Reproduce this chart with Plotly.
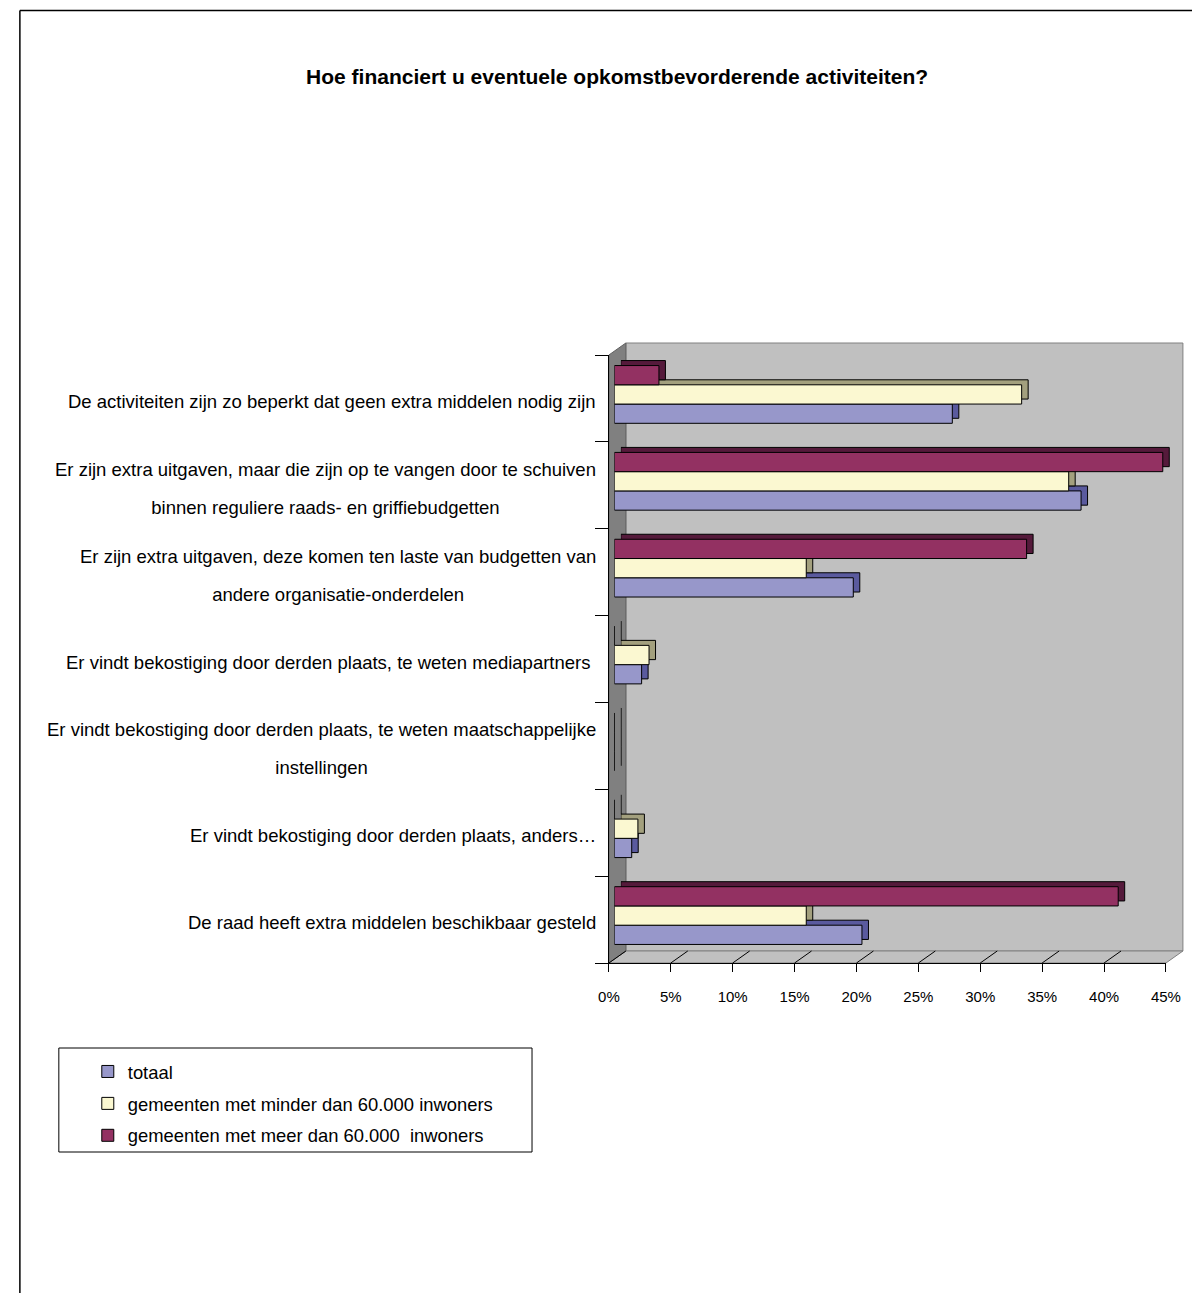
import plotly.graph_objects as go

# ---------------- data ----------------
categories = [
    "De activiteiten zijn zo beperkt dat geen extra middelen nodig zijn",
    "Er zijn extra uitgaven, maar die zijn op te vangen door te schuiven|binnen reguliere raads- en griffiebudgetten",
    "Er zijn extra uitgaven, deze komen ten laste van budgetten van|andere organisatie-onderdelen",
    "Er vindt bekostiging door derden plaats, te weten mediapartners\u00a0",
    "Er vindt bekostiging door derden plaats, te weten maatschappelijke|instellingen",
    "Er vindt bekostiging door derden plaats, anders\u2026",
    "De raad heeft extra middelen beschikbaar gesteld",
]
series_names = [
    "totaal",
    "gemeenten met minder dan 60.000 inwoners",
    "gemeenten met meer dan 60.000\u00a0\u00a0inwoners",
]
totaal = [27.3, 37.7, 19.3, 2.2, 0.0, 1.4, 20.0]
minder = [32.9, 36.7, 15.5, 2.8, 0.0, 1.9, 15.5]
meer = [3.6, 44.3, 33.3, 0.0, 0.0, 0.0, 40.7]
x_ticks = [0, 5, 10, 15, 20, 25, 30, 35, 40, 45]
title_text = "Hoe financiert u eventuele opkomstbevorderende activiteiten?"

front_colors = ["#9797CA", "#FBF8D1", "#933162"]
depth_colors = ["#5A5A9E", "#A3A07E", "#551A3B"]

W, H = 1200, 1285
# observed mapping of figure pixels onto the photographed page
SX, OX = 0.98, 17.1
OY = 8
FONT = "Liberation Sans, Arial, sans-serif"


def X(px):
    return ((px - OX) / SX) / W


def Y(py):
    return 1 - (py - OY) / H


values = [totaal, minder, meer]
cat_order = categories[::-1]

fig = go.Figure()

# depth (back faces) of the bars -> subplot x2/y2, shifted right/up
for name, vals, col in zip(series_names, values, depth_colors):
    fig.add_trace(go.Bar(
        x=vals, y=categories, orientation="h", name=name,
        marker=dict(color=col, line=dict(color="black", width=1)),
        xaxis="x2", yaxis="y2", showlegend=False, hoverinfo="skip",
    ))

# front faces of the bars -> subplot x3/y3
for i, (name, vals, col) in enumerate(zip(series_names, values, front_colors)):
    fig.add_trace(go.Bar(
        x=vals, y=categories, orientation="h", name=name,
        marker=dict(color=col, line=dict(color="black", width=1)),
        xaxis="x3", yaxis="y3", legendgroup="g%d" % i,
    ))

bar_x0, bar_x1 = 613.5, 1171.5
bar_y0, bar_y1 = 351, 959
dx, dy = 6.5, 5

fig.update_layout(
    width=W, height=H,
    margin=dict(l=0, r=0, t=0, b=0),
    paper_bgcolor="white",
    plot_bgcolor="rgba(0,0,0,0)",
    font=dict(family=FONT, size=15, color="black"),
    barmode="group", bargap=0.335, bargroupgap=0,
    title=dict(text="<b>%s</b>" % title_text, x=X(614), xanchor="center",
               y=Y(77), yanchor="middle",
               font=dict(family=FONT, size=21, color="black")),
    # back wall (grid lines)
    xaxis=dict(domain=[X(625), X(1183)], range=[0, 45], tickvals=x_ticks,
               showgrid=True, gridcolor="#3a3a3a", gridwidth=1,
               showticklabels=False, zeroline=False, showline=False,
               ticks="", anchor="y", fixedrange=True),
    yaxis=dict(domain=[Y(951), Y(343)], range=[0, 1], showgrid=False,
               showticklabels=False, zeroline=False, showline=False,
               ticks="", anchor="x", fixedrange=True),
    # bar depth faces
    xaxis2=dict(domain=[X(bar_x0 + dx), X(bar_x1 + dx)], range=[0, 45],
                showgrid=False, showticklabels=False, zeroline=False,
                showline=False, ticks="", anchor="y2", fixedrange=True),
    yaxis2=dict(domain=[Y(bar_y1 - dy), Y(bar_y0 - dy)], type="category",
                categoryorder="array", categoryarray=cat_order,
                showgrid=False, showticklabels=False, zeroline=False,
                showline=False, ticks="", anchor="x2", fixedrange=True),
    # bar front faces
    xaxis3=dict(domain=[X(bar_x0), X(bar_x1)], range=[0, 45],
                showgrid=False, showticklabels=False, zeroline=False,
                showline=False, ticks="", anchor="y3", fixedrange=True),
    yaxis3=dict(domain=[Y(bar_y1), Y(bar_y0)], type="category",
                categoryorder="array", categoryarray=cat_order,
                showgrid=False, showticklabels=False, zeroline=False,
                showline=False, ticks="", anchor="x3", fixedrange=True),
    # front axes (ticks and labels)
    xaxis4=dict(domain=[X(608), X(1166)], range=[0, 45], tickvals=x_ticks,
                ticktext=["%d%%" % v for v in x_ticks],
                ticks="outside", ticklen=8, tickcolor="black", tickwidth=1,
                showline=True, linecolor="black", linewidth=1,
                showgrid=False, zeroline=False, anchor="y4",
                tickfont=dict(family=FONT, size=15, color="black"),
                ticklabelstandoff=12, fixedrange=True),
    yaxis4=dict(domain=[Y(963), Y(355)], range=[0, len(categories)],
                tickvals=list(range(len(categories) + 1)),
                ticks="outside", ticklen=13, tickcolor="black", tickwidth=1,
                showline=True, linecolor="black", linewidth=1,
                showgrid=False, zeroline=False, showticklabels=False,
                anchor="x4", fixedrange=True),
    legend=dict(x=X(86), xanchor="left", y=Y(1053), yanchor="top",
                bgcolor="rgba(0,0,0,0)", borderwidth=0,
                font=dict(family=FONT, size=18.4, color="black"),
                tracegroupgap=5, traceorder="grouped"),
)

shapes = []
# outer frame: top and left edges (right/bottom lie outside the picture)
shapes.append(dict(type="line", xref="paper", yref="paper",
                   x0=0.9 / W, x1=1, y0=Y(10.5), y1=Y(10.5),
                   line=dict(color="black", width=1.5), layer="below"))
shapes.append(dict(type="line", xref="paper", yref="paper",
                   x0=0.9 / W, x1=0.9 / W, y0=0, y1=Y(10.5),
                   line=dict(color="black", width=1.5), layer="below"))
# back wall
shapes.append(dict(type="rect", xref="paper", yref="paper",
                   x0=X(625), x1=X(1183), y0=Y(951), y1=Y(343),
                   fillcolor="#C0C0C0", line=dict(color="#808080", width=1),
                   layer="below"))


def path(points):
    return "M " + " L ".join("%f,%f" % (X(a), Y(b)) for a, b in points) + " Z"


# floor
shapes.append(dict(type="path", xref="paper", yref="paper",
                   path=path([(608, 963), (625, 951), (1183, 951), (1166, 963)]),
                   fillcolor="#C0C0C0", line=dict(color="#808080", width=1),
                   layer="below"))
# left side wall
shapes.append(dict(type="path", xref="paper", yref="paper",
                   path=path([(608, 355), (625, 343), (625, 951), (608, 963)]),
                   fillcolor="#808080", line=dict(color="#606060", width=1),
                   layer="below"))
# floor grid diagonals
unit = (1166 - 608) / 45.0
for v in x_ticks:
    shapes.append(dict(type="line", xref="x4", yref="paper",
                       x0=v, y0=Y(963), x1=v + 17 / unit, y1=Y(951),
                       line=dict(color="black", width=1), layer="below"))
# legend box
shapes.append(dict(type="rect", xref="paper", yref="paper",
                   x0=X(57), x1=X(531), y0=Y(1152), y1=Y(1048),
                   line=dict(color="black", width=1), fillcolor="white",
                   layer="below"))
fig.update_layout(shapes=shapes)

# category labels (centered multi-line, right-aligned block, wide line spacing)
LABEL_PX = 18.5
annotations = []
for c in categories:
    lines = c.split("|")
    styled = ["<span style='font-size:%spx'>%s</span>" % (LABEL_PX, ln) for ln in lines]
    annotations.append(dict(
        text="<br><br>".join(styled), xref="paper", x=X(597), xanchor="right",
        yref="y3", y=c, yanchor="middle", yshift=-7,
        showarrow=False, align="center",
        font=dict(family=FONT, size=14.6, color="black"),
    ))
fig.update_layout(annotations=annotations)

fig.write_html("out.html")
